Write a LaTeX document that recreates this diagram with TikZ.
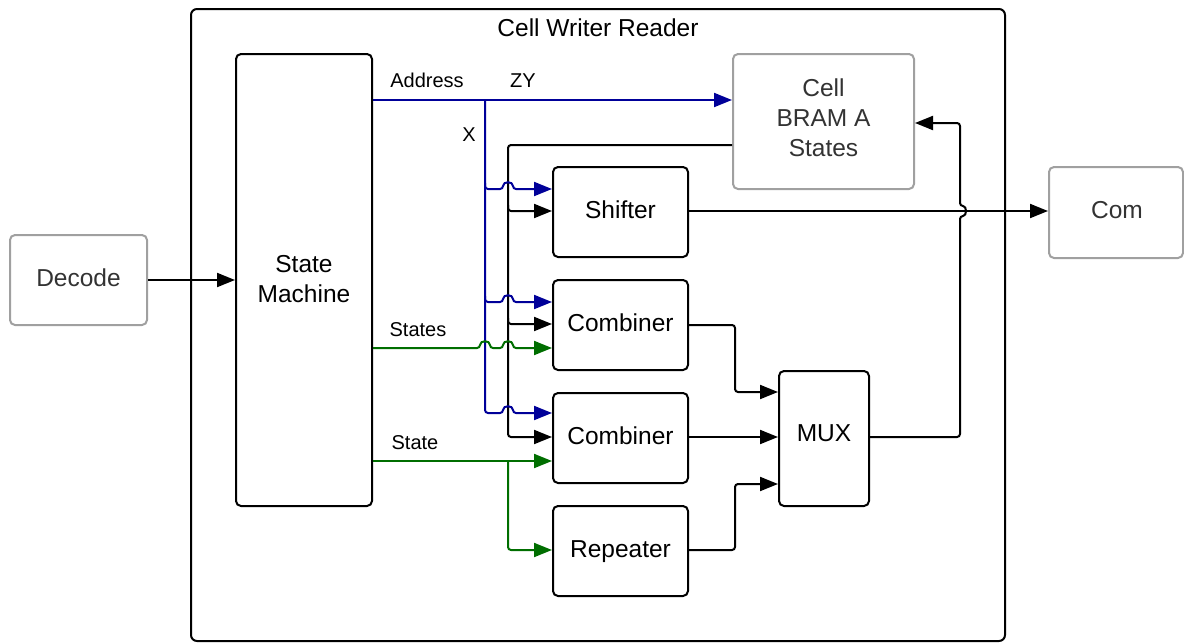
\documentclass[tikz,border=0pt]{standalone}
\usepackage{fontspec}
\setmainfont{Liberation Sans}
\usetikzlibrary{arrows.meta}
\definecolor{busblue}{RGB}{0,0,153}
\definecolor{busgreen}{RGB}{0,110,0}
\definecolor{boxgrey}{RGB}{160,160,160}
\definecolor{txtgrey}{RGB}{51,51,51}
\begin{document}
\begin{tikzpicture}[x=1pt,y=-1pt,
  blk/.style={draw, line width=2pt, rounded corners=5pt, fill=white, inner sep=0pt},
  gbox/.style={draw=boxgrey, line width=2pt, rounded corners=5pt, fill=white, inner sep=0pt},
  big/.style={font=\fontsize{24.5}{30}\selectfont, align=center, inner sep=0pt},
  one/.style={big, text height=17.5pt, text depth=0pt},
  wire/.style={line width=2pt, rounded corners=3pt},
  arr/.style={-{Triangle[length=18pt,width=14pt]}},
  bw/.style={wire, draw=busblue},
  gw/.style={wire, draw=busgreen},
  lbl/.style={font=\fontsize{20}{24}\selectfont, inner sep=0pt, text height=14.3pt, text depth=0pt},
  bluearr/.style={arr, bw},
  greenarr/.style={arr, gw}]
\useasboundingbox (0,0) rectangle (1184,643);
% frame
\node[draw, line width=2pt, rounded corners=6pt, minimum width=814pt, minimum height=632pt, inner sep=0pt] (frame) at (598,325) {};
\node[one] (title) at (598,28) {Cell Writer Reader};
% boxes
\node[gbox, minimum width=137pt, minimum height=90pt] (dec) at (78.5,280) {};
\node[one, text=txtgrey] (dect) at (78.5,278) {Decode};
\node[blk, minimum width=136pt, minimum height=452pt] (sm) at (304,280) {};
\node[big] (smt) at (304,279) {State\\Machine};
\node[gbox, minimum width=181pt, minimum height=135pt] (cell) at (823.5,121.5) {};
\node[big, text=txtgrey] (cellt) at (823.5,118) {Cell\\BRAM A\\States};
\node[gbox, minimum width=134pt, minimum height=91pt] (com) at (1116,212.5) {};
\node[one, text=txtgrey] (comt) at (1117,210) {Com};
\node[blk, minimum width=135pt, minimum height=90pt] (shf) at (620.5,212) {};
\node[one] (shft) at (620.5,210) {Shifter};
\node[blk, minimum width=135pt, minimum height=90pt] (cb1) at (620.5,325) {};
\node[one] (cb1t) at (620.5,323) {Combiner};
\node[blk, minimum width=135pt, minimum height=90pt] (cb2) at (620.5,438) {};
\node[one] (cb2t) at (620.5,436) {Combiner};
\node[blk, minimum width=135pt, minimum height=90pt] (rep) at (620.5,551) {};
\node[one] (rept) at (620.5,549) {Repeater};
\node[blk, minimum width=90pt, minimum height=135pt] (mux) at (824,438.5) {};
\node[one] (muxt) at (824,433) {MUX};
% decode -> state machine
\draw[wire, arr] (dec.east |- 0,280) -- (sm.west |- 0,280);
% black bus from cell
\draw[wire, arr] (cell.west |- 0,145) -- (508,145) -- (508,437) -- (cb2.west |- 0,437);
\draw[wire, arr] (508,205) -- (508,211) -- (shf.west |- 0,211);
\draw[wire, arr] (508,318) -- (508,324) -- (cb1.west |- 0,324);
% address bus
\draw[bluearr] (sm.east |- 0,100) -- (cell.west |- 0,100);
\draw[bluearr] (485,100) -- (485,413) -- (503,413) .. controls (503,405) and (513,405) .. (513,413) -- (cb2.west |- 0,413);
\draw[bluearr] (485,183) -- (485,189) -- (503,189) .. controls (503,181) and (513,181) .. (513,189) -- (shf.west |- 0,189);
\draw[bluearr] (485,296) -- (485,302) -- (503,302) .. controls (503,294) and (513,294) .. (513,302) -- (cb1.west |- 0,302);
% states buses
\draw[greenarr] (sm.east |- 0,348) -- (480,348) .. controls (480,340) and (490,340) .. (490,348) -- (503,348) .. controls (503,340) and (513,340) .. (513,348) -- (cb1.west |- 0,348);
\draw[greenarr] (sm.east |- 0,461) -- (cb2.west |- 0,461);
\draw[greenarr] (508,461) -- (508,550) -- (rep.west |- 0,550);
% outputs
\draw[wire, arr] (shf.east |- 0,211) -- (com.west |- 0,211);
\draw[wire, arr] (cb1.east |- 0,325) -- (735,325) -- (735,392) -- (mux.west |- 0,392);
\draw[wire, arr] (cb2.east |- 0,437) -- (mux.west |- 0,437);
\draw[wire, arr] (rep.east |- 0,550) -- (735,550) -- (735,484) -- (mux.west |- 0,484);
\draw[wire, arr] (mux.east |- 0,437) -- (960,437) -- (960,216) .. controls (967,216) and (967,206) .. (960,206) -- (960,123) -- (cell.east |- 0,123);
% labels
\node[lbl] (la) at (427,80) {Address};
\node[lbl] (lzy) at (523,80) {ZY};
\node[lbl] (lx) at (469,134) {X};
\node[lbl] (lss) at (418,329) {States};
\node[lbl] (ls) at (415,442) {State};
\end{tikzpicture}
\end{document}
